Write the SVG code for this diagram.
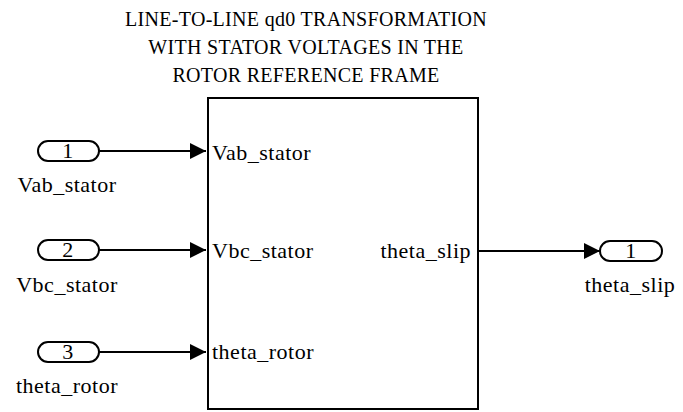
<svg xmlns="http://www.w3.org/2000/svg" width="683" height="412" viewBox="0 0 683 412">
<style>
text{font-family:"Times New Roman",Times,"Liberation Serif","Noto Serif","DejaVu Serif",serif;fill:#000;font-size:22px;letter-spacing:0.5px}
.ttl{font-size:20px;letter-spacing:0.3px}
.port{fill:#fff;stroke:#000;stroke-width:2}
.blk{fill:#fff;stroke:#000;stroke-width:2}
.wire{stroke:#000;stroke-width:2;fill:none}
.mid{text-anchor:middle}
.end{text-anchor:end}
</style>
<defs>
<marker id="ah" viewBox="0 0 16 16" refX="16" refY="8" markerWidth="16" markerHeight="16" markerUnits="userSpaceOnUse" orient="auto">
<path d="M0,0 L16,8 L0,16 Z" fill="#000"/>
</marker>
</defs>
<g id="title">
<text class="mid ttl" x="306" y="26">LINE-TO-LINE qd0 TRANSFORMATION</text>
<text class="mid ttl" x="306" y="54">WITH STATOR VOLTAGES IN THE</text>
<text class="mid ttl" x="306" y="82">ROTOR REFERENCE FRAME</text>
</g>
<g id="subsystem">
<rect class="blk" x="208" y="98" width="270" height="311"/>
<text x="212" y="160">Vab_stator</text>
<text x="212" y="258">Vbc_stator</text>
<text x="212" y="359">theta_rotor</text>
<text class="end" x="471" y="258">theta_slip</text>
</g>
<g id="in1">
<rect class="port" x="38" y="141" width="61" height="20" rx="10"/>
<text class="mid" x="68" y="158">1</text>
<text class="mid" x="67" y="192">Vab_stator</text>
</g>
<g id="in2">
<rect class="port" x="38" y="240" width="61" height="20" rx="10"/>
<text class="mid" x="68" y="257">2</text>
<text class="mid" x="67" y="292">Vbc_stator</text>
</g>
<g id="in3">
<rect class="port" x="38" y="342" width="61" height="20" rx="10"/>
<text class="mid" x="68" y="359">3</text>
<text class="mid" x="67" y="393">theta_rotor</text>
</g>
<g id="out1">
<rect class="port" x="600" y="241" width="62" height="20" rx="10"/>
<text class="mid" x="631" y="258">1</text>
<text class="mid" x="630" y="292">theta_slip</text>
</g>
<g id="connectors">
<line class="wire" x1="99" y1="151" x2="206" y2="151" marker-end="url(#ah)"/>
<line class="wire" x1="99" y1="250" x2="206" y2="250" marker-end="url(#ah)"/>
<line class="wire" x1="99" y1="352" x2="206" y2="352" marker-end="url(#ah)"/>
<line class="wire" x1="479" y1="251" x2="600" y2="251" marker-end="url(#ah)"/>
</g>
</svg>
